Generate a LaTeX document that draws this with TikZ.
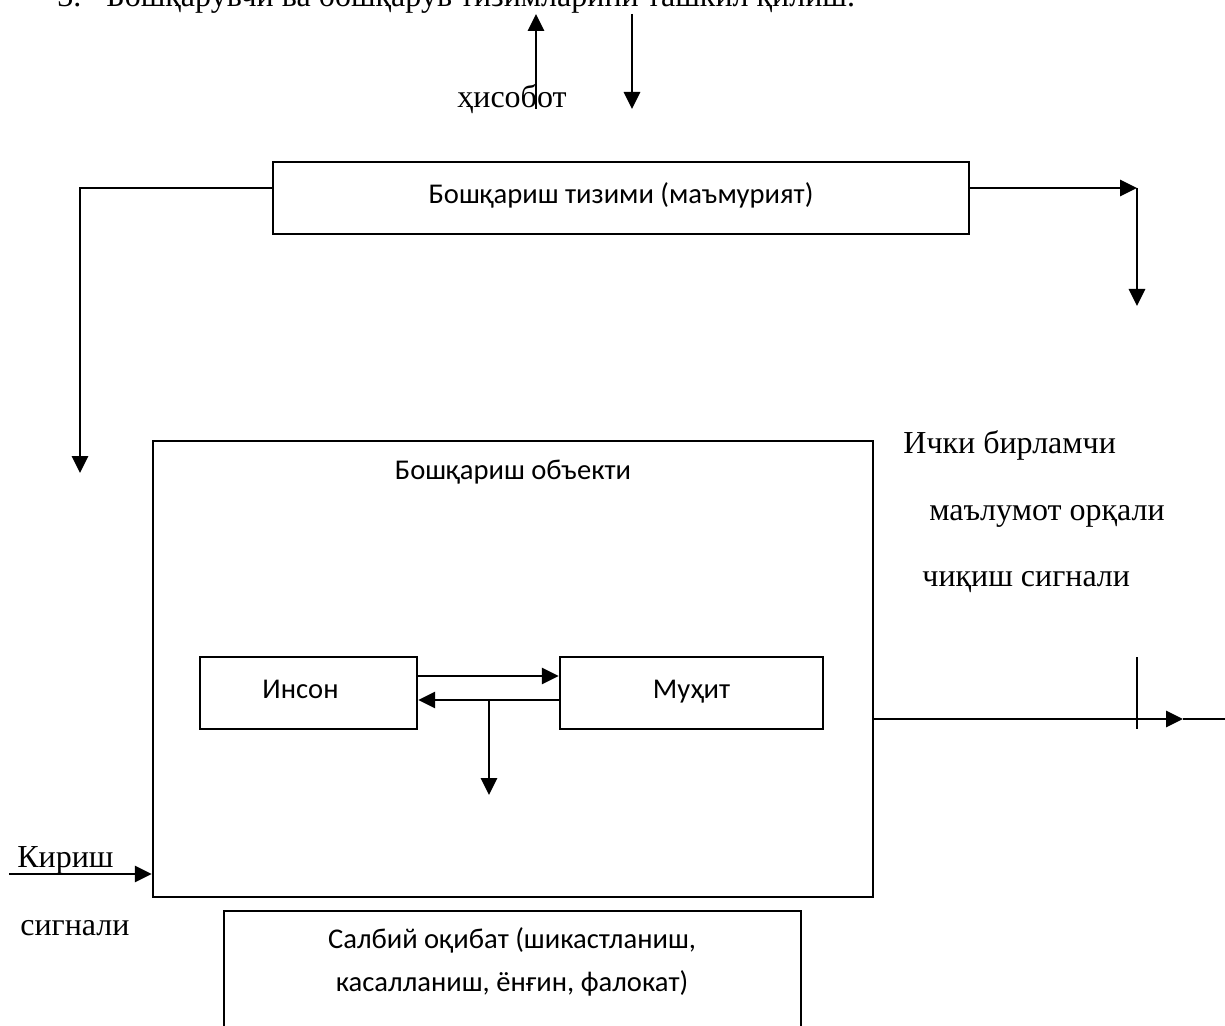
\documentclass[tikz,border=0pt]{standalone}
\usepackage{fontspec}
\setmainfont{Liberation Serif}
\newfontfamily\calibri{Carlito}
\usetikzlibrary{arrows.meta}

\begin{document}
\begin{tikzpicture}[x=0.5pt, y=-0.5pt,
	box/.style={draw, line width=1.2pt, inner sep=0pt},
	boxtext/.style={font=\calibri\fontsize{14.3}{17}\selectfont},
	label/.style={text height=1.6ex, text depth=0.3ex},
	serif/.style={font=\fontsize{16}{19}\selectfont, inner sep=0pt},
	arr/.style={-{Triangle[length=8.5pt, width=8pt]}, line width=1.4pt},
	]
	\clip (0, 0) rectangle (1225, 1026);

	\node[serif, anchor=base west] at (57, 7) (num) {3.};
	\node[serif, anchor=base west] at (106, 7) (heading) {Бошқарувчи ва бошқарув тизимларини ташкил қилиш.};

	\node[box, boxtext, label, minimum width=348pt, minimum height=36pt] at (621, 198) (mgmt) {Бошқариш тизими (маъмурият)};
	\node[box, minimum width=360pt, minimum height=228pt] at (513, 669) (obj) {};
	\node[boxtext] at (513, 472) (objtitle) {Бошқариш объекти};
	\node[box, boxtext, label, minimum width=108.5pt, minimum height=36pt] at (308.5, 693) (human) {\hspace*{-8pt}Инсон};
	\node[box, boxtext, label, minimum width=131.5pt, minimum height=36pt] at (691.5, 693) (env) {Муҳит};
	\node[box, minimum width=288.5pt, minimum height=80pt] at (512.5, 991) (harm) {};
	\node[boxtext, font=\calibri\fontsize{14.3}{21.5}\selectfont, align=center] at (512, 962) (harmtext) {Салбий оқибат (шикастланиш,\\касалланиш, ёнғин, фалокат)};

	\node[serif, anchor=base west] at (457, 108) (report) {ҳисобот};
	\node[serif, anchor=base west] at (17, 867) (inlabel) {Кириш};
	\node[serif, anchor=base west] at (20, 935) (insignal) {сигнали};
	\node[serif, anchor=base west] at (903, 453) (outa) {Ички бирламчи};
	\node[serif, anchor=base west] at (929, 520) (outb) {маълумот орқали};
	\node[serif, anchor=base west] at (922, 586) (outc) {чиқиш сигнали};

	\coordinate (upbot) at (536, 109);
	\coordinate (uptop) at (536, 14);
	\coordinate (downtop) at (632, 14);
	\coordinate (downbot) at (632, 109);
	\coordinate (leftend) at (80, 473);
	\coordinate (rcorner) at (1137, 188);
	\coordinate (rdown) at (1137, 306);
	\coordinate (branch) at (489, 700);
	\coordinate (branchend) at (489, 795);
	\coordinate (instart) at (9, 874);
	\coordinate (outtip) at (1183, 719);
	\coordinate (outend) at (1225, 719);
	\coordinate (ticktop) at (1137, 657);
	\coordinate (tickbot) at (1137, 729);

	\draw[arr] (upbot) -- (uptop);
	\draw[arr] (downtop) -- (downbot);
	\draw[arr] (mgmt.west |- 0,188) -| (leftend);
	\draw[arr] (mgmt.east |- 0,188) -- (rcorner);
	\draw[arr] (rcorner) -- (rdown);
	\draw[arr] (human.east |- 0,676) -- (env.west |- 0,676);
	\draw[arr] (env.west |- 0,700) -- (human.east |- 0,700);
	\draw[arr] (branch) -- (branchend);
	\draw[arr] (instart) -- (obj.west |- 0,874);
	\draw[arr] (obj.east |- 0,719) -- (outtip);
	\draw[line width=0.6pt] (outtip) -- (outend);
	\draw[line width=0.9pt] (ticktop) -- (tickbot);
\end{tikzpicture}
\end{document}
